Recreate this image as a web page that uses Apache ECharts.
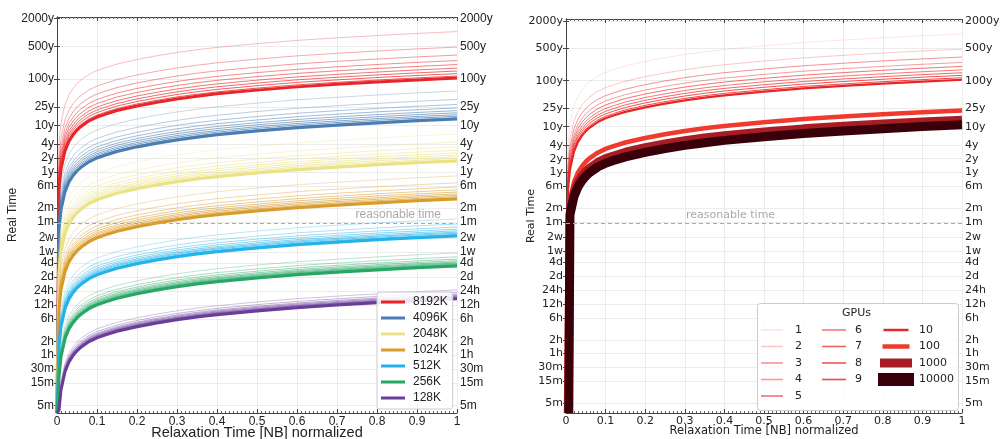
<!DOCTYPE html>
<html>
<head>
<meta charset="utf-8">
<script src="https://cdn.jsdelivr.net/npm/echarts@6/dist/echarts.min.js"></script>
<style>
html,body{margin:0;padding:0;background:#fff}
#chart{width:1002px;height:439px}
</style>
</head>
<body>
<div id="chart"></div>
<script>
// everything in years
const H = 1 / 8766, MIN = H / 60, D = 24 * H, W = 7 * D, MO = 1 / 12

const tickValues = [5 * MIN, 15 * MIN, 30 * MIN, H, 2 * H, 6 * H, 12 * H, 24 * H, 2 * D, 4 * D, W, 2 * W,
  MO, 2 * MO, 6 * MO, 1, 2, 4, 10, 25, 100, 500, 2000]
const tickLabels = ['5m', '15m', '30m', '1h', '2h', '6h', '12h', '24h', '2d', '4d', '1w', '2w',
  '1m', '2m', '6m', '1y', '2y', '4y', '10y', '25y', '100y', '500y', '2000y']

// relaxation time samples and the curve profile (fraction of the value at 1.0)
const relax = [0, 0.005, 0.01, 0.02, 0.03, 0.04, 0.05, 0.06, 0.08, 0.1, 0.12, 0.15, 0.2, 0.25, 0.3, 0.35, 0.4, 0.5, 0.6, 0.7, 0.8, 0.9, 1]
const profile = [0, 0.004, 0.011, 0.027, 0.044, 0.060, 0.076, 0.091, 0.120, 0.145, 0.166, 0.200, 0.251, 0.302, 0.355, 0.407, 0.457, 0.550, 0.646, 0.733, 0.822, 0.912, 1]
// the 1000 / 10000 GPU curves only leave the floor at this relaxation time
const heavyStart = 0.007

const groups = ['8192K', '4096K', '2048K', '1024K', '512K', '256K', '128K']
const gpus = [1, 2, 3, 4, 5, 6, 7, 8, 9, 10, 100, 1000, 10000]

// real time (years) at relaxation time 1, for 1..10 GPUs
const end8192 = [1050, 488, 328, 250, 205, 172, 149, 131, 116, 105]
const end4096 = [55.2, 36.4, 28.4, 23.9, 20.9, 18.8, 17.1, 15.8, 14.7, 13.8]
const end2048 = [6.56, 4.40, 3.47, 2.93, 2.58, 2.32, 2.12, 1.96, 1.83, 1.73]
const end1024 = [0.820, 0.583, 0.475, 0.412, 0.370, 0.338, 0.314, 0.293, 0.277, 0.263]
const end512 = [0.0975, 0.0758, 0.0653, 0.0588, 0.0541, 0.0507, 0.0481, 0.0455, 0.0438, 0.0421]
const end256 = [0.0181, 0.01494, 0.01334, 0.01231, 0.01156, 0.0110, 0.01052, 0.01015, 0.00986, 0.00951]
const end128 = [0.00290, 0.00254, 0.00234, 0.00222, 0.00212, 0.00205, 0.00199, 0.00194, 0.00189, 0.00186]
// 8192K with 100, 1000, 10000 GPUs
const end8192big = [22.6, 14.2, 11.0]

const yMinL = 6.5e-6, yMaxL = 2164
const yMinR = 5.8e-6, yMaxR = 2210

const groupColors = ['#e8262a', '#4a7db3', '#ebe383', '#d99c2b', '#22b3ea', '#28a664', '#6a3d9a']
const thinAlpha = [0.3, 0.38, 0.46, 0.52, 0.58, 0.63, 0.68, 0.73, 0.78]
const rightColors = ['rgba(236,40,40,0.12)', 'rgba(236,40,40,0.25)', 'rgba(236,40,40,0.5)', 'rgba(236,40,40,0.45)',
  'rgba(236,40,40,0.65)', 'rgba(236,40,40,0.62)', 'rgba(236,40,40,0.72)', 'rgba(236,40,40,0.8)', 'rgba(236,40,40,0.85)',
  '#e82626', '#f03a2d', '#a81c24', '#3a000a']
const rightWidths = [1, 1, 1, 1, 1, 1, 1, 1, 1, 2.2, 4.5, 8, 9]

function rgba(hex, a) {
  const n = parseInt(hex.slice(1), 16)
  return 'rgba(' + (n >> 16) + ',' + ((n >> 8) & 255) + ',' + (n & 255) + ',' + a + ')'
}
function curve(v, floor, start) {
  // zero at the start is clipped to the axis floor, like a log plot does
  const pts = []
  relax.forEach((x, i) => {
    if (start && x < start) return
    pts.push([x, Math.max(v * profile[i], floor)])
  })
  if (start) pts.unshift([start, floor])
  return pts
}
function fmtY(v) {
  let best = 0
  tickValues.forEach((t, i) => {
    if (Math.abs(Math.log(t / v)) < Math.abs(Math.log(tickValues[best] / v))) best = i
  })
  return tickLabels[best]
}
// legend icon: a bw x bh bar centered in a w x h box
function bar(w, h, bw, bh) {
  const x = (w - bw) / 2, y = (h - bh) / 2
  return 'path://M0 0M' + w + ' ' + h + 'M' + x + ' ' + y + 'h' + bw + 'v' + bh + 'h' + (-bw) + 'z'
}

const LF = 'Liberation Sans', RF = 'DejaVu Sans'

function xAxes(grid, font, size, tsize, title) {
  const common = {
    gridIndex: grid, type: 'value', min: 0, max: 1, interval: 0.1,
    axisLine: { lineStyle: { color: '#444', width: 1 } },
    axisTick: { inside: true, length: 4, lineStyle: { color: '#444' } },
    minorTick: { show: true, splitNumber: 10, length: 2, lineStyle: { color: '#666' } }
  }
  return [
    Object.assign({}, common, {
      position: 'bottom',
      axisLabel: { margin: 3, fontFamily: font, fontSize: size, color: '#222',
        formatter: v => String(+v.toFixed(1)) },
      splitLine: { show: true, lineStyle: { color: '#ececec', width: 1 } },
      name: title, nameLocation: 'middle', nameGap: 12, nameMoveOverlap: false,
      nameTextStyle: { fontFamily: font, fontSize: tsize, color: '#222' }
    }),
    Object.assign({}, common, {
      position: 'top', axisLabel: { show: false }, splitLine: { show: false }
    })
  ]
}
function yAxes(grid, min, max, font, size, gap) {
  const common = {
    gridIndex: grid, type: 'log', min: min, max: max,
    axisLine: { show: true, lineStyle: { color: '#444', width: 1 } },
    axisTick: { show: true, customValues: tickValues, length: 3, lineStyle: { color: '#444' } },
    axisLabel: { customValues: tickValues, formatter: fmtY, margin: 3, fontFamily: font, fontSize: size, color: '#222' },
    minorTick: { show: false }
  }
  return [
    Object.assign({}, common, {
      position: 'left',
      splitLine: { show: true, lineStyle: { color: '#ececec', width: 1 } },
      name: 'Real Time', nameLocation: 'middle', nameGap: gap, nameMoveOverlap: false,
      nameTextStyle: { fontFamily: font, fontSize: size, color: '#222' }
    }),
    Object.assign({}, common, { position: 'right', splitLine: { show: false } })
  ]
}

const series = []
const leftEnds = [end8192, end4096, end2048, end1024, end512, end256, end128]
groups.forEach((g, gi) => {
  leftEnds[gi].forEach((v, i) => {
    const thick = i === 9
    series.push({
      type: 'line', name: thick ? g : g + ' ' + gpus[i],
      xAxisIndex: 0, yAxisIndex: 0,
      data: curve(v, yMinL), symbol: 'none', silent: true, animation: false,
      color: thick ? groupColors[gi] : rgba(groupColors[gi], thinAlpha[i]),
      lineStyle: { width: thick ? 3 : 1 }
    })
  })
})
const rightEnds = end8192.concat(end8192big)
rightEnds.forEach((v, i) => {
  series.push({
    type: 'line', name: String(gpus[i]),
    xAxisIndex: 2, yAxisIndex: 2,
    data: curve(v, yMinR, gpus[i] >= 1000 ? heavyStart : 0), symbol: 'none', silent: true, animation: false,
    color: rightColors[i],
    lineStyle: { width: rightWidths[i] }
  })
})

function reasonable(font, size, pos, dist) {
  return {
    symbol: 'none', silent: true, animation: false,
    lineStyle: { type: [4, 3], color: '#aaa', width: 1 },
    label: { formatter: 'reasonable time', position: pos, distance: dist, color: '#aaa', fontFamily: font, fontSize: size },
    data: [{ yAxis: MO }]
  }
}
series[0].markLine = reasonable(LF, 12, 'insideEndTop', [16, 2])
series[70].markLine = reasonable(RF, 11, 'insideStartTop', [120, 2])

const legendCommon = {
  orient: 'vertical', selectedMode: false, itemHeight: 14, itemGap: 2.5,
  itemStyle: { borderWidth: 0 }, symbolKeepAspect: true
}

const chart = echarts.init(document.getElementById('chart'))
chart.setOption({
  backgroundColor: '#fff',
  animation: false,
  grid: [
    { left: 57, top: 17, width: 400, height: 396, outerBoundsMode: 'none', containLabel: false },
    { left: 566, top: 19, width: 396, height: 394, outerBoundsMode: 'none', containLabel: false }
  ],
  xAxis: xAxes(0, LF, 12, 14.5, 'Relaxation Time [NB] normalized')
    .concat(xAxes(1, RF, 11, 11.5, 'Relaxation Time [NB] normalized')),
  yAxis: yAxes(0, yMinL, yMaxL, LF, 12, 38).concat(yAxes(1, yMinR, yMaxR, RF, 11, 29)),
  legend: [
    Object.assign({}, legendCommon, {
      data: groups, left: 377, top: 292, padding: [3, 5, 4, 4],
      itemWidth: 24, itemGap: 2, icon: bar(24, 14, 24, 3),
      textStyle: { fontFamily: LF, fontSize: 12, color: '#222', padding: [0, 0, 0, 3] },
      borderColor: '#ccc', borderWidth: 1, borderRadius: 3, backgroundColor: 'rgba(255,255,255,0.85)'
    }),
    Object.assign({}, legendCommon, {
      data: ['1', '2', '3', '4', '5'], left: 761, top: 323, padding: 0,
      itemWidth: 22, icon: bar(22, 14, 22, 1.6),
      textStyle: { fontFamily: RF, fontSize: 11, color: '#222', padding: [0, 0, 0, 7] }
    }),
    Object.assign({}, legendCommon, {
      data: ['6', '7', '8', '9'], left: 822, top: 323, padding: 0,
      itemWidth: 24, icon: bar(24, 14, 24, 1.6),
      textStyle: { fontFamily: RF, fontSize: 11, color: '#222', padding: [0, 0, 0, 4] }
    }),
    Object.assign({}, legendCommon, {
      left: 878, top: 323, padding: 0, itemWidth: 36,
      data: [
        { name: '10', icon: bar(36, 14, 25, 2.5) },
        { name: '100', icon: bar(36, 14, 27, 4.5) },
        { name: '1000', icon: bar(36, 14, 32, 9) },
        { name: '10000', icon: bar(36, 14, 36, 13) }
      ],
      textStyle: { fontFamily: RF, fontSize: 11, color: '#222' }
    })
  ],
  graphic: [
    { type: 'rect', left: 757, top: 303, z: 3, silent: true,
      shape: { width: 201, height: 107, r: 3 },
      style: { fill: 'rgba(255,255,255,0.85)', stroke: '#ccc', lineWidth: 1 } },
    { type: 'text', left: 842, top: 308, z: 5, silent: true,
      style: { text: 'GPUs', font: '11px "DejaVu Sans"', fill: '#222' } }
  ],
  series: series
})
</script>
</body>
</html>
